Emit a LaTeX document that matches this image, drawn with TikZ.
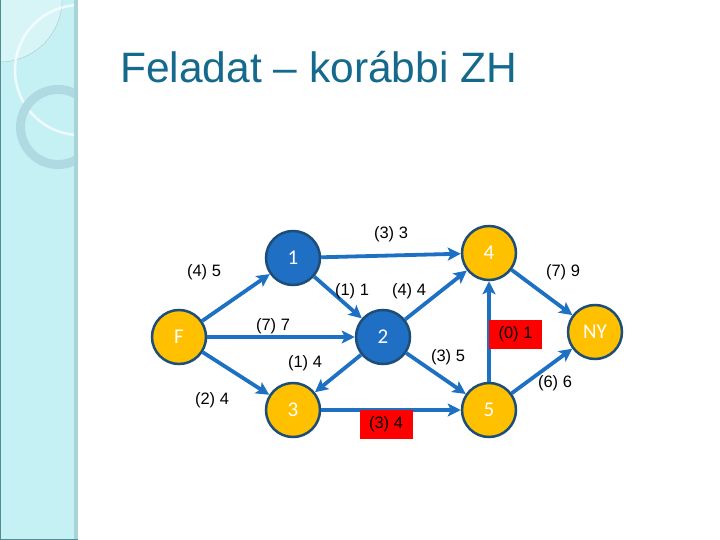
\documentclass[tikz,border=0pt]{standalone}
\usepackage{fontspec}
\setmainfont{Liberation Sans}
\newfontfamily\nodefont{Carlito}
\usetikzlibrary{arrows.meta}
\definecolor{panel}{RGB}{198,241,244}
\definecolor{panelstrip}{RGB}{168,212,216}
\definecolor{paneledge}{RGB}{80,140,146}
\definecolor{ringcol}{RGB}{176,218,226}
\definecolor{titlecol}{RGB}{20,105,140}
\definecolor{edgecol}{RGB}{30,112,195}
\definecolor{nodeblue}{RGB}{31,111,197}
\definecolor{nodeyellow}{RGB}{255,192,0}
\definecolor{nodeborder}{RGB}{28,78,120}
\definecolor{redbox}{RGB}{255,0,0}
\tikzset{
  netnode/.style={circle, draw=nodeborder, line width=2.5pt, minimum size=54pt, inner sep=0pt,
    text=white, font=\nodefont\fontsize{21}{21}\selectfont},
  bluenode/.style={netnode, fill=nodeblue},
  yellownode/.style={netnode, fill=nodeyellow},
  arc/.style={draw=edgecol, line width=3.8pt, -{Stealth[length=13pt,width=13pt,inset=3pt]}},
  lbl/.style={font=\fontsize{16.5}{16.5}\selectfont, inner sep=0pt},
  redlbl/.style={lbl, fill=redbox, minimum width=53pt, minimum height=29pt}
}
\begin{document}
\begin{tikzpicture}[x=1pt,y=-1pt]
\useasboundingbox (0,0) rectangle (720,540);
\fill[white] (0,0) rectangle (720,540);
% side panel
\fill[panel] (0,0) rectangle (78,540);
\begin{scope}
\clip (0,0) rectangle (78,540);
\fill[white,opacity=0.3] (0,0) circle (62);
\draw[paneledge!50,line width=0.4pt] (0,0) circle (62);
\draw[white,opacity=0.7,line width=2.5pt] (80,70) circle (65);
\draw[ringcol,line width=9pt] (58,127) circle (37.5);
\end{scope}
\fill[panelstrip] (74,0) rectangle (78,540);
\fill[paneledge] (0,0) rectangle (1.2,540);
\fill[paneledge] (0,538.5) rectangle (78,540);
% title
\node[anchor=base west, inner sep=0pt, text=titlecol, font=\fontsize{42.5}{42.5}\selectfont] (title) at (120,83) {Feladat – korábbi ZH};
% nodes
\node[yellownode] (F) at (179,337) {F};
\node[bluenode] (n1) at (293,258) {1};
\node[bluenode] (n2) at (383,337) {2};
\node[yellownode] (n3) at (293,410) {3};
\node[yellownode] (n4) at (489,253) {4};
\node[yellownode] (n5) at (489,410) {5};
\node[yellownode] (NY) at (595,332) {NY};
% edges
\draw[arc] (F) -- (n1);
\draw[arc] (F) -- (n2);
\draw[arc] (F) -- (n3);
\draw[arc] (n1) -- (n2);
\draw[arc] (n1) -- (n4);
\draw[arc] (n2) -- (n4);
\draw[arc] (n2) -- (n3);
\draw[arc] (n2) -- (n5);
\draw[arc] (n3) -- (n5);
\draw[arc] (n5) -- (n4);
\draw[arc] (n4) -- (NY);
\draw[arc] (n5) -- (NY);
% labels
\node[lbl] (l13) at (391,234) {(3) 3};
\node[lbl] (lF1) at (204,272) {(4) 5};
\node[lbl] (l12) at (352,291) {(1) 1};
\node[lbl] (l24) at (409,291) {(4) 4};
\node[lbl] (l4N) at (563,272) {(7) 9};
\node[lbl] (lF2) at (273,326) {(7) 7};
\node[redlbl] (l54) at (515.5,334.5) {(0) 1};
\node[lbl] (l25) at (448,357) {(3) 5};
\node[lbl] (l23) at (305,363) {(1) 4};
\node[lbl] (l5N) at (555,383) {(6) 6};
\node[lbl] (lF3) at (212,400) {(2) 4};
\node[redlbl] (l35) at (386,424) {(3) 4};
\end{tikzpicture}
\end{document}
